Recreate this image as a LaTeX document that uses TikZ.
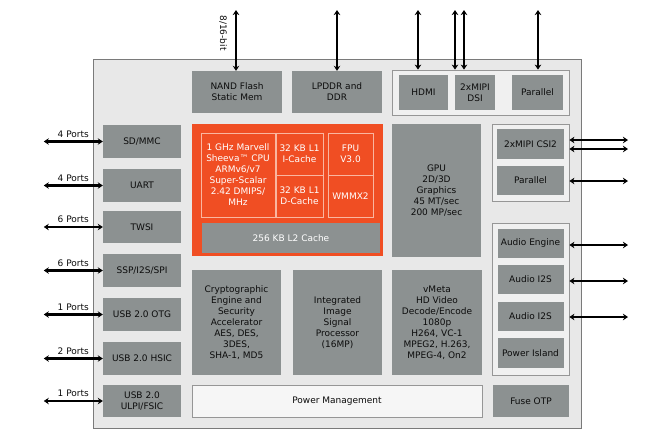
\documentclass[tikz,border=0pt]{standalone}
\usepackage{fontspec}
\setmainfont{DejaVu Sans}
\usepackage{tikz}
\usetikzlibrary{arrows.meta, calc, positioning}
\usepackage{xcolor}

\definecolor{chipfill}{RGB}{232,232,232}
\definecolor{chipline}{RGB}{122,122,122}
\definecolor{blkgray}{RGB}{140,145,145}
\definecolor{grpfill}{RGB}{240,240,240}
\definecolor{grpline}{RGB}{150,150,150}
\definecolor{cpuorange}{RGB}{240,78,35}
\definecolor{cellline}{RGB}{250,182,160}
\definecolor{pmfill}{RGB}{246,246,246}
\definecolor{txtdark}{RGB}{12,12,12}

\begin{document}
\begin{tikzpicture}[x=1pt, y=-1pt,
    every node/.style={font=\fontsize{9}{11}\selectfont, align=center, text=txtdark, inner sep=0pt},
    blk/.style={fill=blkgray, draw=none},
    grp/.style={fill=grpfill, draw=grpline, line width=0.8pt},
    cell/.style={draw=cellline, line width=0.7pt, text=white},
    port/.style={{Stealth[length=5pt,width=6.5pt]}-{Stealth[length=5pt,width=6.5pt]}, line width=2.3pt, black}]

    \useasboundingbox (0,0) rectangle (660,440);

    % chip
    \draw[draw=chipline, fill=chipfill, line width=1pt] (93,59) rectangle ++(488,369);

    % top row
    \node[blk, minimum width=90, minimum height=42] (nand) at (237,92) {NAND Flash\\Static Mem};
    \node[blk, minimum width=90, minimum height=42] (lpddr) at (337,92) {LPDDR and\\DDR};
    \node[grp, minimum width=177, minimum height=45] (topgrp) at (480.5,92.5) {};
    \node[blk, minimum width=49, minimum height=35] (hdmi) at (423.5,92.5) {HDMI};
    \node[blk, minimum width=40, minimum height=35] (dsi) at (475,92.5) {2xMIPI\\DSI};
    \node[blk, minimum width=51, minimum height=35] (tpar) at (537.5,92.5) {Parallel};

    % top ports
    \coordinate (nandport) at (236,10);
    \coordinate (lpddrport) at (337,10);
    \coordinate (hdmiport) at (418,10);
    \coordinate (dsiporta) at (455,10);
    \coordinate (dsiportb) at (464,10);
    \coordinate (tparport) at (538,10);
    \draw[port] (nandport) -- (nandport |- nand.north);
    \draw[port] (lpddrport) -- (lpddrport |- lpddr.north);
    \draw[port] (hdmiport) -- (hdmiport |- topgrp.north);
    \draw[port] (dsiporta) -- (dsiporta |- topgrp.north);
    \draw[port] (dsiportb) -- (dsiportb |- topgrp.north);
    \draw[port] (tparport) -- (tparport |- topgrp.north);
    \node[rotate=-90] (buswidth) at (223,33) {8/16-bit};

    % cpu
    \node[fill=cpuorange, minimum width=191, minimum height=132] (cpu) at (287.5,190) {};
    \node[cell, minimum width=74, minimum height=84] (core) at (238,175) {1 GHz Marvell\\Sheeva™ CPU\\ARMv6/v7\\Super-Scalar\\2.42 DMIPS/\\MHz};
    \node[cell, minimum width=47, minimum height=42] (icache) at (299.5,154) {32 KB L1\\I-Cache};
    \node[cell, minimum width=47, minimum height=42] (dcache) at (299.5,196) {32 KB L1\\D-Cache};
    \node[cell, minimum width=45, minimum height=42] (fpu) at (350.5,154) {FPU\\V3.0};
    \node[cell, minimum width=45, minimum height=42] (wmmx) at (350.5,196) {WMMX2};
    \node[blk, text=white, minimum width=178, minimum height=30] (ltwo) at (291,238) {256 KB L2 Cache};

    % gpu and media
    \node[blk, minimum width=89, minimum height=133] (gpu) at (436.5,190.5) {GPU\\2D/3D\\Graphics\\45 MT/sec\\200 MP/sec};
    \node[blk, minimum width=89, minimum height=105] (crypto) at (236.5,322.5) {Cryptographic\\Engine and\\Security\\Accelerator\\AES, DES,\\3DES,\\SHA-1, MD5};
    \node[blk, minimum width=89, minimum height=105] (isp) at (337.5,322.5) {Integrated\\Image\\Signal\\Processor\\(16MP)};
    \node[blk, minimum width=90, minimum height=105] (vmeta) at (437,322.5) {vMeta\\HD Video\\Decode/Encode\\1080p\\H264, VC-1\\MPEG2, H.263,\\MPEG-4, On2};
    \node[fill=pmfill, draw=grpline, line width=0.8pt, minimum width=290, minimum height=32] (power) at (337,401) {Power Management};

    % right side
    \node[grp, minimum width=77, minimum height=77] (camgrp) at (530.5,162.5) {};
    \node[blk, minimum width=67, minimum height=30] (csi) at (530.5,144) {2xMIPI CSI2};
    \node[blk, minimum width=67, minimum height=29] (rpar) at (530.5,180.5) {Parallel};
    \node[grp, minimum width=77, minimum height=152] (audgrp) at (530.5,299) {};
    \node[blk, minimum width=66, minimum height=29] (aeng) at (530.5,243.5) {Audio Engine};
    \node[blk, minimum width=66, minimum height=29] (ausa) at (530.5,279.5) {Audio I2S};
    \node[blk, minimum width=66, minimum height=29] (ausb) at (530.5,316.5) {Audio I2S};
    \node[blk, minimum width=66, minimum height=30] (pisland) at (530.5,353) {Power Island};
    \node[blk, minimum width=76, minimum height=32] (fuse) at (531,401) {Fuse OTP};

    % right ports
    \coordinate (csiporta) at (628,140);
    \coordinate (csiportb) at (628,149);
    \coordinate (rparport) at (628,181);
    \coordinate (aengport) at (628,245);
    \coordinate (ausaport) at (628,281);
    \coordinate (ausbport) at (628,317);
    \draw[port] (camgrp.east |- csiporta) -- (csiporta);
    \draw[port] (camgrp.east |- csiportb) -- (csiportb);
    \draw[port] (camgrp.east |- rparport) -- (rparport);
    \draw[port] (audgrp.east |- aengport) -- (aengport);
    \draw[port] (audgrp.east |- ausaport) -- (ausaport);
    \draw[port] (audgrp.east |- ausbport) -- (ausbport);

    % left side
    \node[blk, minimum width=78, minimum height=33] (sdmmc) at (142,141.5) {SD/MMC};
    \node[blk, minimum width=78, minimum height=33] (uart) at (142,185.5) {UART};
    \node[blk, minimum width=78, minimum height=32] (twsi) at (142,227) {TWSI};
    \node[blk, minimum width=78, minimum height=33] (ssp) at (142,270.5) {SSP/I2S/SPI};
    \node[blk, minimum width=78, minimum height=33] (otg) at (142,314.5) {USB 2.0 OTG};
    \node[blk, minimum width=78, minimum height=33] (hsic) at (142,358.5) {USB 2.0 HSIC};
    \node[blk, minimum width=78, minimum height=32] (ulpi) at (142,401) {USB 2.0\\ULPI/FSIC};

    % left ports
    \coordinate (sdport) at ($ (sdmmc.west) + (-59,0) $);
    \coordinate (uartport) at ($ (uart.west) + (-59,0) $);
    \coordinate (twsiport) at ($ (twsi.west) + (-59,0) $);
    \coordinate (sspport) at ($ (ssp.west) + (-59,0) $);
    \coordinate (otgport) at ($ (otg.west) + (-59,0) $);
    \coordinate (hsicport) at ($ (hsic.west) + (-59,0) $);
    \coordinate (ulpiport) at ($ (ulpi.west) + (-59,0) $);
    \draw[port] (sdport) -- (sdmmc.west) node[midway, above=3pt] {4 Ports};
    \draw[port] (uartport) -- (uart.west) node[midway, above=3pt] {4 Ports};
    \draw[port] (twsiport) -- (twsi.west) node[midway, above=3pt] {6 Ports};
    \draw[port] (sspport) -- (ssp.west) node[midway, above=3pt] {6 Ports};
    \draw[port] (otgport) -- (otg.west) node[midway, above=3pt] {1 Ports};
    \draw[port] (hsicport) -- (hsic.west) node[midway, above=3pt] {2 Ports};
    \draw[port] (ulpiport) -- (ulpi.west) node[midway, above=3pt] {1 Ports};

\end{tikzpicture}
\end{document}
